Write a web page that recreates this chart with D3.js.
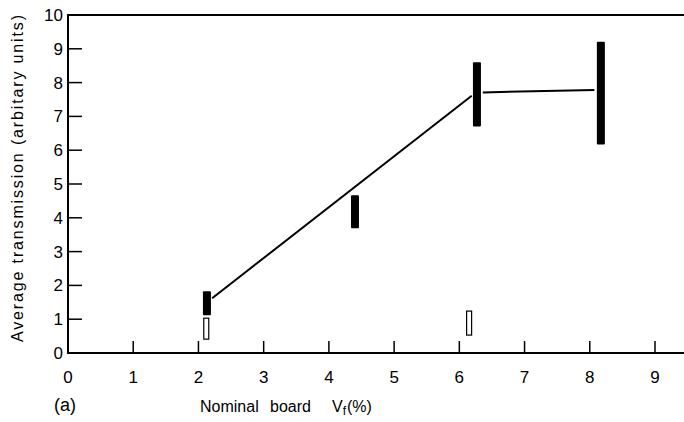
<!DOCTYPE html>
<html>
<head>
<meta charset="utf-8">
<script src="https://cdn.jsdelivr.net/npm/d3@7"></script>
<style>
  body { margin: 0; background: #fff; }
  svg { display: block; font-family: "Liberation Sans", Arial, sans-serif; }
</style>
</head>
<body>
<div id="chart"></div>
<script>
// values
const xTicks = [0, 1, 2, 3, 4, 5, 6, 7, 8, 9];
const yTicks = [0, 1, 2, 3, 4, 5, 6, 7, 8, 9, 10];

// filled bars (range of transmission)
const filledX = [2.13, 4.4, 6.27, 8.17];
const filledLow = [1.12, 3.69, 6.7, 6.17];
const filledHigh = [1.83, 4.67, 8.6, 9.21];

// open bars
const openX = [2.12, 6.15];
const openLow = [0.41, 0.53];
const openHigh = [1.03, 1.24];

// trend line segments
const lineA = [[2.21, 1.62], [6.19, 7.61]];
const lineB = [[6.36, 7.71], [8.07, 7.78]];

const width = 684, height = 422;
const plotLeft = 68, plotTop = 15, plotBottom = 353;

const x = d3.scaleLinear().domain([0, 9]).range([plotLeft, 655]);
const y = d3.scaleLinear().domain([0, 10]).range([plotBottom, plotTop]);

const svg = d3.select("#chart").append("svg")
  .attr("width", width)
  .attr("height", height);

// frame: left, top and bottom lines (no right side)
const frame = svg.append("g")
  .attr("stroke", "#000")
  .attr("stroke-width", 2)
  .attr("fill", "none");
frame.append("path")
  .attr("d", `M${width},${plotTop}H${plotLeft}V${plotBottom}H${width}`);

// y ticks pointing inward
frame.selectAll("line.yt")
  .data(yTicks.slice(1, -1))
  .enter()
  .append("line")
  .attr("class", "yt")
  .attr("x1", plotLeft)
  .attr("x2", plotLeft + 14)
  .attr("y1", (d) => y(d))
  .attr("y2", (d) => y(d))
  .attr("stroke-width", 1.5);

// x ticks pointing up
frame.selectAll("line.xt")
  .data(xTicks.slice(1))
  .enter()
  .append("line")
  .attr("class", "xt")
  .attr("x1", (d) => x(d))
  .attr("x2", (d) => x(d))
  .attr("y1", plotBottom)
  .attr("y2", plotBottom - 12)
  .attr("stroke-width", 1.5);

// tick labels
svg.selectAll("text.yl")
  .data(yTicks)
  .enter()
  .append("text")
  .attr("class", "yl")
  .attr("x", plotLeft - 5)
  .attr("y", (d) => y(d) + 6)
  .attr("text-anchor", "end")
  .attr("font-size", 17)
  .text((d) => d);

svg.selectAll("text.xl")
  .data(xTicks)
  .enter()
  .append("text")
  .attr("class", "xl")
  .attr("x", (d) => x(d))
  .attr("y", plotBottom + 30)
  .attr("text-anchor", "middle")
  .attr("font-size", 17)
  .text((d) => d);

// axis titles
svg.append("text")
  .attr("transform", `translate(23,${(15 + 342) / 2}) rotate(-90)`)
  .attr("text-anchor", "middle")
  .attr("font-size", 16)
  .attr("textLength", 327)
  .attr("lengthAdjust", "spacing")
  .text("Average transmission (arbitary units)");

const xt = svg.append("text")
  .attr("y", 412)
  .attr("font-size", 16);
xt.append("tspan").attr("x", 200).text("Nominal");
xt.append("tspan").attr("x", 270).text("board");
xt.append("tspan").attr("x", 332).text("V");
xt.append("tspan").attr("font-size", 12).attr("dy", 3).text("f");
xt.append("tspan").attr("dy", -3).attr("dx", 1).text("(%)");

svg.append("text")
  .attr("x", 54)
  .attr("y", 411)
  .attr("font-size", 18)
  .text("(a)");

// trend lines
const line = d3.line().x((d) => x(d[0])).y((d) => y(d[1]));
svg.selectAll("path.trend")
  .data([lineA, lineB])
  .enter()
  .append("path")
  .attr("class", "trend")
  .attr("d", line)
  .attr("fill", "none")
  .attr("stroke", "#000")
  .attr("stroke-width", 2);

// filled bars
svg.selectAll("rect.filled")
  .data(filledX)
  .enter()
  .append("rect")
  .attr("class", "filled")
  .attr("x", (d) => x(d) - 4)
  .attr("width", 8)
  .attr("y", (d, i) => y(filledHigh[i]))
  .attr("height", (d, i) => y(filledLow[i]) - y(filledHigh[i]))
  .attr("rx", 1)
  .attr("fill", "#000");

// open bars
svg.selectAll("rect.open")
  .data(openX)
  .enter()
  .append("rect")
  .attr("class", "open")
  .attr("x", (d) => x(d) - 2.5)
  .attr("width", 5)
  .attr("y", (d, i) => y(openHigh[i]))
  .attr("height", (d, i) => y(openLow[i]) - y(openHigh[i]))
  .attr("fill", "#fff")
  .attr("stroke", "#000")
  .attr("stroke-width", 1.2);
</script>
</body>
</html>
